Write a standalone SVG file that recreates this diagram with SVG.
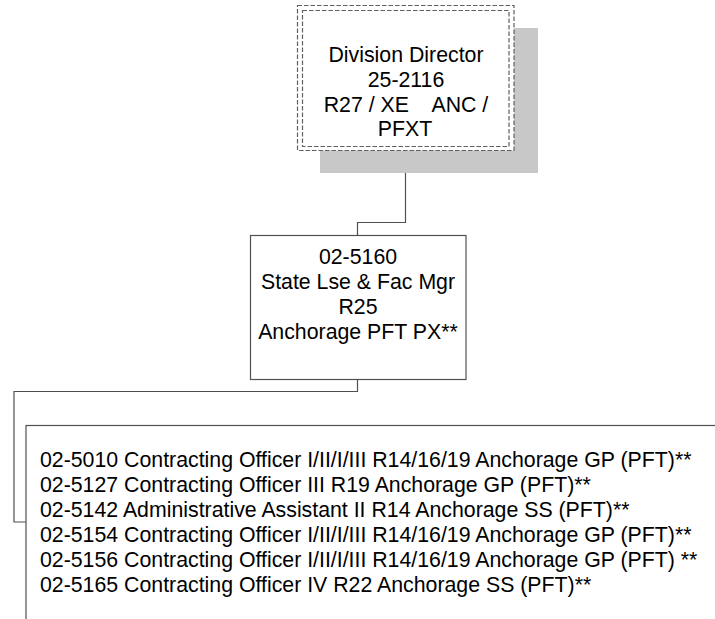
<svg xmlns="http://www.w3.org/2000/svg" width="715" height="619" viewBox="0 0 715 619">
<style>
text{font-family:"Liberation Sans",Arial,sans-serif;font-size:21.3px;fill:#000}
.c{text-anchor:middle}
.box{fill:#fff;stroke:#505050;stroke-width:1.2}
.dash{fill:none;stroke:#606060;stroke-width:1.2;stroke-dasharray:4.5,2}
.conn{fill:none;stroke:#505050;stroke-width:1.2}
</style>
<rect width="715" height="619" fill="#fff"/>
<g id="connectors">
<polyline class="conn" points="405.5,150.5 405.5,222.5 357.5,222.5 357.5,235.5"/>
<polyline class="conn" points="357.5,379.5 357.5,391.5 14,391.5 14,522 26,522"/>
</g>
<g id="director">
<rect x="320" y="28" width="218" height="145" fill="#c8c8c8"/>
<rect x="297.5" y="5.5" width="216.5" height="145" fill="#fff"/>
<rect class="dash" x="297.5" y="5.5" width="216.5" height="145"/>
<rect class="dash" x="302.5" y="10.5" width="206.5" height="136"/>
<text class="c" x="406" y="61.5">Division Director</text>
<text class="c" x="406" y="86.5">25-2116</text>
<text class="c" x="406" y="111.5" xml:space="preserve">R27 / XE    ANC /</text>
<text class="c" x="405" y="136">PFXT</text>
</g>
<g id="manager">
<rect class="box" x="250.5" y="235.5" width="215.5" height="144"/>
<text class="c" x="358" y="263.5">02-5160</text>
<text class="c" x="358" y="288.5">State Lse &amp; Fac Mgr</text>
<text class="c" x="358" y="313.5">R25</text>
<text class="c" x="358" y="338.5">Anchorage PFT PX**</text>
</g>
<g id="staff">
<rect class="box" x="26" y="425.5" width="700" height="200"/>
<text x="40" y="467">02-5010 Contracting Officer I/II/I/III R14/16/19 Anchorage GP (PFT)**</text>
<text x="40" y="492">02-5127 Contracting Officer III R19 Anchorage GP (PFT)**</text>
<text x="40" y="517">02-5142 Administrative Assistant II R14 Anchorage SS (PFT)**</text>
<text x="40" y="542">02-5154 Contracting Officer I/II/I/III R14/16/19 Anchorage GP (PFT)**</text>
<text x="40" y="567">02-5156 Contracting Officer I/II/I/III R14/16/19 Anchorage GP (PFT) **</text>
<text x="40" y="592">02-5165 Contracting Officer IV R22 Anchorage SS (PFT)**</text>
</g>
</svg>
